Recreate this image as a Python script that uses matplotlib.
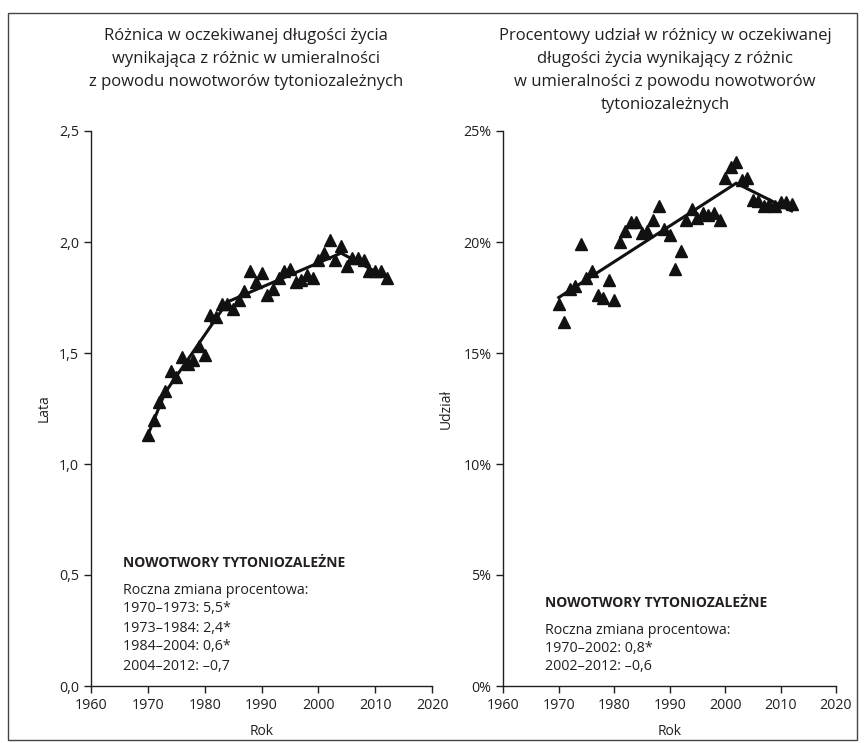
import numpy as np
import matplotlib
matplotlib.use("Agg")
import matplotlib.pyplot as plt
from matplotlib.patches import Rectangle
from matplotlib.ticker import FuncFormatter

plt.rcParams['font.family'] = ['Open Sans', 'DejaVu Sans']

INK = '#231f20'

# ---- dane: lewy panel (lata) ----
years = list(range(1970, 2013))
lata = [1.13, 1.20, 1.28, 1.33, 1.42, 1.39, 1.48, 1.45, 1.47, 1.53,
        1.49, 1.67, 1.66, 1.72, 1.72, 1.70, 1.74, 1.78, 1.87, 1.82,
        1.86, 1.76, 1.79, 1.84, 1.87, 1.88, 1.82, 1.83, 1.85, 1.84,
        1.92, 1.95, 2.01, 1.92, 1.98, 1.89, 1.93, 1.93, 1.92, 1.87,
        1.87, 1.87, 1.84]
knots_l = [1970, 1973, 1984, 2004, 2012]
fit_l = [1.13, 1.32, 1.73, 1.95, 1.84]

# ---- dane: prawy panel (udzial %) ----
udzial = [17.2, 16.4, 17.9, 18.0, 19.9, 18.4, 18.7, 17.6, 17.5, 18.3,
          17.4, 20.0, 20.5, 20.9, 20.9, 20.4, 20.5, 21.0, 21.6, 20.6,
          20.3, 18.8, 19.6, 21.0, 21.5, 21.1, 21.3, 21.2, 21.3, 21.0,
          22.9, 23.4, 23.6, 22.8, 22.9, 21.9, 21.85, 21.6, 21.7, 21.6,
          21.8, 21.8, 21.7]
knots_r = [1970, 2002, 2012]
fit_r = [17.5, 22.65, 21.4]

xticks = [1960, 1970, 1980, 1990, 2000, 2010, 2020]

title_l = ("Różnica w oczekiwanej długości życia\n"
           "wynikająca z różnic w umieralności\n"
           "z powodu nowotworów tytoniozależnych")
title_r = ("Procentowy udział w różnicy w oczekiwanej\n"
           "długości życia wynikający z różnic\n"
           "w umieralności z powodu nowotworów\n"
           "tytoniozależnych")
note_l = ["Roczna zmiana procentowa:", "1970–1973: 5,5*", "1973–1984: 2,4*",
          "1984–2004: 0,6*", "2004–2012: –0,7"]
note_r = ["Roczna zmiana procentowa:", "1970–2002: 0,8*", "2002–2012: –0,6"]

W, H = 865, 743
fig = plt.figure(figsize=(W / 100, H / 100), dpi=100)

def fx(px):
    return px / W

def fy(py):
    return 1 - py / H

ax1 = fig.add_axes([fx(91), fy(686), fx(432) - fx(91), fy(131) - fy(686)])
ax2 = fig.add_axes([fx(503.3), fy(686), fx(836) - fx(503.3), fy(131) - fy(686)])

for ax in (ax1, ax2):
    for s in ('top', 'right'):
        ax.spines[s].set_visible(False)
    for s in ('left', 'bottom'):
        ax.spines[s].set_color(INK)
        ax.spines[s].set_linewidth(1.0)
    ax.set_xlim(1960, 2020)
    ax.set_xticks(xticks)
    ax.tick_params(colors=INK, labelsize=10.3, length=5, width=1.0, direction='out')
    ax.set_xlabel("Rok", fontsize=10, color=INK, labelpad=8)

# lewy
ax1.plot(knots_l, fit_l, color='#111111', lw=2.2, zorder=2, solid_joinstyle='miter')
ax1.plot(years, lata, '^', color='#111111', ms=8.5, zorder=3)
ax1.set_ylim(0, 2.5)
ax1.set_yticks([0, 0.5, 1.0, 1.5, 2.0, 2.5])
ax1.yaxis.set_major_formatter(FuncFormatter(lambda v, p: f"{v:.1f}".replace('.', ',')))
ax1.set_ylabel("Lata", fontsize=10, color=INK, labelpad=5.5)

# prawy
ax2.plot(knots_r, fit_r, color='#111111', lw=2.2, zorder=2, solid_joinstyle='miter')
ax2.plot(years, udzial, '^', color='#111111', ms=8.5, zorder=3)
ax2.set_ylim(0, 25)
ax2.set_yticks([0, 5, 10, 15, 20, 25])
ax2.yaxis.set_major_formatter(FuncFormatter(lambda v, p: f"{v:.0f}%"))
ax2.set_ylabel("Udział", fontsize=10, color=INK, labelpad=7)

# tytuly
fig.text(fx(246), fy(28), title_l, ha='center', va='top', fontsize=12,
         color=INK, linespacing=1.57)
fig.text(fx(665), fy(28), title_r, ha='center', va='top', fontsize=12,
         color=INK, linespacing=1.57)

# notatki
fig.text(fx(123), fy(563), "NOWOTWORY TYTONIOZALEŻNE", ha='left', va='center',
         fontsize=10, fontweight='bold', color=INK)
for i, line in enumerate(note_l):
    fig.text(fx(123), fy(590 + i * 19), line, ha='left', va='center',
             fontsize=10.3, color=INK)

fig.text(fx(545), fy(603), "NOWOTWORY TYTONIOZALEŻNE", ha='left', va='center',
         fontsize=10, fontweight='bold', color=INK)
for i, line in enumerate(note_r):
    fig.text(fx(545), fy(630 + i * 18.5), line, ha='left', va='center',
             fontsize=10.3, color=INK)

# ramka
fig.patches.append(Rectangle((fx(8), fy(740)), fx(857) - fx(8), fy(13) - fy(740),
                             transform=fig.transFigure, fill=False,
                             edgecolor='#444444', lw=1.0))

fig.savefig("out.png", dpi=100)
